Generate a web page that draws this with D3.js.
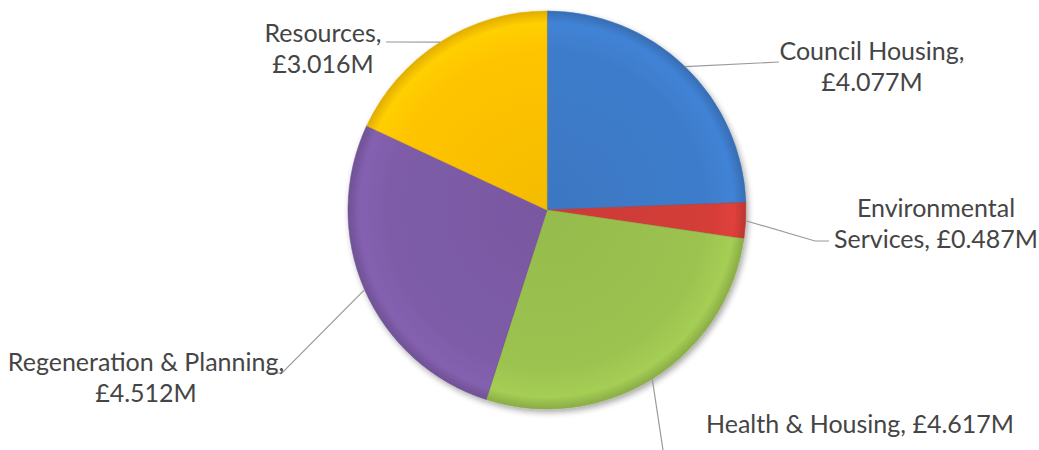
<!DOCTYPE html>
<html>
<head>
<meta charset="utf-8">
<script src="https://cdn.jsdelivr.net/npm/d3@7"></script>
<style>
  body { margin: 0; background: #fff; }
  svg text { font-family: Lato, "Open Sans", sans-serif; fill: #454545; }
</style>
</head>
<body>
<svg id="chart" width="1039" height="450"></svg>
<script>
const categories = ['Council Housing', 'Environmental Services', 'Health & Housing', 'Regeneration & Planning', 'Resources'];
const values = [4.077, 0.487, 4.617, 4.512, 3.016];
const labelLines = [
  ['Council Housing,', '£4.077M'],
  ['Environmental', 'Services, £0.487M'],
  ['Health & Housing, £4.617M'],
  ['Regeneration & Planning,', '£4.512M'],
  ['Resources,', '£3.016M']
];
const colors = ['#3e7ccb', '#d43d38', '#9cc350', '#7e5ca8', '#ffc400'];

const svg = d3.select('#chart');
const cx = 547, cy = 210, radius = 199;
const fontSize = 25, lineH = 31;

// label layout: text centre x, first baseline y, and leader elbow/end points (relative to page)
const layout = [
  { x: 872, y: 60, elbow: null, end: [779, 62] },
  { x: 936, y: 217, elbow: [815, 241], end: [829, 241] },
  { x: 860, y: 433, elbow: null, end: [663, 450] },
  { x: 146, y: 371, elbow: [282, 373], end: [269, 373] },
  { x: 323, y: 42, elbow: null, end: [386, 42] }
];

const defs = svg.append('defs');
const shadow = defs.append('filter').attr('id', 'shadow')
    .attr('x', '-10%').attr('y', '-10%').attr('width', '120%').attr('height', '120%');
shadow.append('feGaussianBlur').attr('in', 'SourceAlpha').attr('stdDeviation', 3).attr('result', 'blur');
shadow.append('feOffset').attr('dx', 2).attr('dy', 3).attr('result', 'off');
shadow.append('feComponentTransfer').append('feFuncA').attr('type', 'linear').attr('slope', 0.35);
const merge = shadow.append('feMerge');
merge.append('feMergeNode');
merge.append('feMergeNode').attr('in', 'SourceGraphic');

colors.forEach(function (c, i) {
  let g = defs.append('radialGradient').attr('id', 'grad' + i)
      .attr('gradientUnits', 'userSpaceOnUse')
      .attr('cx', 0).attr('cy', 0).attr('r', radius);
  g.append('stop').attr('offset', '0%').attr('stop-color', d3.color(c).darker(0.12));
  g.append('stop').attr('offset', '80%').attr('stop-color', c);
  g.append('stop').attr('offset', '94%').attr('stop-color', d3.color(c).brighter(0.15));
  g.append('stop').attr('offset', '100%').attr('stop-color', d3.color(c).darker(0.35));
});

const pie = d3.pie().sort(null).value(function (d) { return d; });
const arcs = pie(values);
const arc = d3.arc().innerRadius(0).outerRadius(radius);

const g = svg.append('g').attr('transform', 'translate(' + cx + ',' + cy + ')');

g.append('g').attr('filter', 'url(#shadow)')
  .selectAll('path')
  .data(arcs)
  .enter().append('path')
    .attr('d', arc)
    .attr('fill', function (d, i) { return 'url(#grad' + i + ')'; })
    .attr('stroke', function (d, i) { return d3.color(colors[i]).darker(0.3); })
    .attr('stroke-width', 0.6);

// leader lines
arcs.forEach(function (d, i) {
  let a = (d.startAngle + d.endAngle) / 2;
  let sx = cx + radius * Math.sin(a);
  let sy = cy - radius * Math.cos(a);
  let L = layout[i];
  let pts = [[sx, sy]];
  if (L.elbow) pts.push(L.elbow);
  pts.push(L.end);
  svg.append('path')
    .attr('d', d3.line()(pts))
    .attr('fill', 'none')
    .attr('stroke', '#9a9a9a')
    .attr('stroke-width', 1.2);
});

// labels
labelLines.forEach(function (lines, i) {
  let L = layout[i];
  let t = svg.append('text')
      .attr('text-anchor', 'middle')
      .style('font-size', fontSize + 'px');
  lines.forEach(function (s, k) {
    t.append('tspan').attr('x', L.x).attr('y', L.y + k * lineH).text(s);
  });
});
</script>
</body>
</html>
